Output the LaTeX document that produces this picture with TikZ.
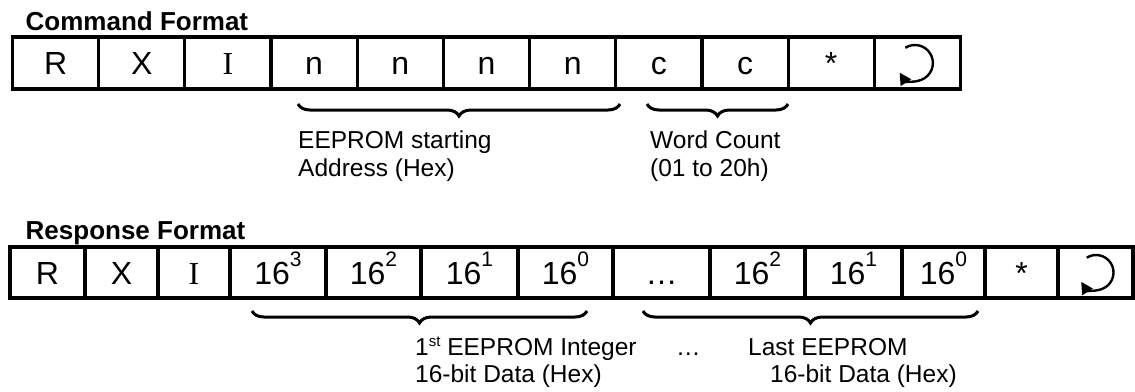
\documentclass[tikz,border=0pt]{standalone}
\usepackage{fontspec}
\setmainfont{Liberation Sans}
\newfontfamily\serifI{Liberation Serif}
\usetikzlibrary{decorations.pathreplacing,arrows.meta}
\newcommand\supx[1]{{\fontsize{21}{21}\selectfont\raisebox{18pt}{#1}}}
\newcommand\supst[1]{{\fontsize{15}{15}\selectfont\raisebox{9pt}{#1}}}
\begin{document}
\begin{tikzpicture}[x=1pt,y=-1pt,
 cell/.style={draw, line width=3.2pt, inner sep=0pt, text height=23.5pt, text depth=0pt, font=\fontsize{32}{32}\selectfont},
 crow/.style={cell, minimum height=52pt, minimum width=86.18pt},
 rrow/.style={cell, minimum height=51pt},
 title/.style={anchor=base west, inner sep=0pt, font=\fontsize{26}{26}\selectfont\bfseries},
 lbl/.style={anchor=base west, inner sep=0pt, font=\fontsize{24.5}{24.5}\selectfont},
 bracepath/.style={decorate, decoration={brace, mirror, amplitude=12pt}, line width=3pt},
 retarrow/.style={line width=2.4pt, -{Triangle[length=12pt,width=12pt]}}
]
\useasboundingbox (0,0) rectangle (1135,391);

% ---------- Command format ----------
\node[title] (ctitle) at (25.5,30.5) {Command Format};
\node[crow] (c1) at (55.59,63) {R};
\node[crow] (c2) at (141.77,63) {X};
\node[crow] (c3) at (227.95,63) {\serifI I};
\node[crow] (c4) at (314.13,63) {n};
\node[crow] (c5) at (400.31,63) {n};
\node[crow] (c6) at (486.49,63) {n};
\node[crow] (c7) at (572.67,63) {n};
\node[crow] (c8) at (658.85,63) {c};
\node[crow] (c9) at (745.03,63) {c};
\node[crow] (c10) at (831.21,63) {*};
\node[crow] (c11) at (917.39,63) {};
\draw[retarrow] ([xshift=-2.5pt]c11.center) ++(122:18pt) arc[start angle=122, end angle=-148, radius=18pt];

\coordinate (cb1a) at (298,104);
\coordinate (cb1b) at (620,104);
\coordinate (cb2a) at (647,104);
\coordinate (cb2b) at (788,104);
\draw[bracepath] (cb1a) -- (cb1b);
\draw[bracepath] (cb2a) -- (cb2b);

\node[lbl] (cl1) at (298,148) {EEPROM starting};
\node[lbl] (cl2) at (298,176) {Address (Hex)};
\node[lbl] (cl3) at (650,148) {Word Count};
\node[lbl] (cl4) at (650,176) {(01 to 20h)};

% ---------- Response format ----------
\node[title] (rtitle) at (25.5,239) {Response Format};
\node[rrow, minimum width=75pt] (r1) at (47.5,272.5) {R};
\node[rrow, minimum width=73pt] (r2) at (121.5,272.5) {X};
\node[rrow, minimum width=72pt] (r3) at (194,272.5) {\serifI I};
\node[rrow, minimum width=96pt] (r4) at (278,272.5) {16\supx{3}};
\node[rrow, minimum width=95pt] (r5) at (373.5,272.5) {16\supx{2}};
\node[rrow, minimum width=97pt] (r6) at (469.5,272.5) {16\supx{1}};
\node[rrow, minimum width=95pt] (r7) at (565.5,272.5) {16\supx{0}};
\node[rrow, minimum width=97pt] (r8) at (661.5,272.5) {…};
\node[rrow, minimum width=95pt] (r9) at (757.5,272.5) {16\supx{2}};
\node[rrow, minimum width=97pt] (r10) at (853.5,272.5) {16\supx{1}};
\node[rrow, minimum width=83pt] (r11) at (943.5,272.5) {16\supx{0}};
\node[rrow, minimum width=73pt] (r12) at (1021.5,272.5) {*};
\node[rrow, minimum width=75pt] (r13) at (1095.5,272.5) {};
\draw[retarrow] ([xshift=0.5pt]r13.center) ++(122:17.5pt) arc[start angle=122, end angle=-148, radius=17.5pt];

\coordinate (rb1a) at (252,311);
\coordinate (rb1b) at (587,311);
\coordinate (rb2a) at (643,311);
\coordinate (rb2b) at (978,311);
\draw[bracepath] (rb1a) -- (rb1b);
\draw[bracepath] (rb2a) -- (rb2b);

\node[lbl] (rl1) at (415,355) {1\supst{st} EEPROM Integer};
\node[lbl] (rl2) at (415,382) {16-bit Data (Hex)};
\node[lbl] (rl3) at (676,355) {…};
\node[lbl] (rl4) at (748,355) {Last EEPROM};
\node[lbl] (rl5) at (770,382) {16-bit Data (Hex)};
\end{tikzpicture}
\end{document}
